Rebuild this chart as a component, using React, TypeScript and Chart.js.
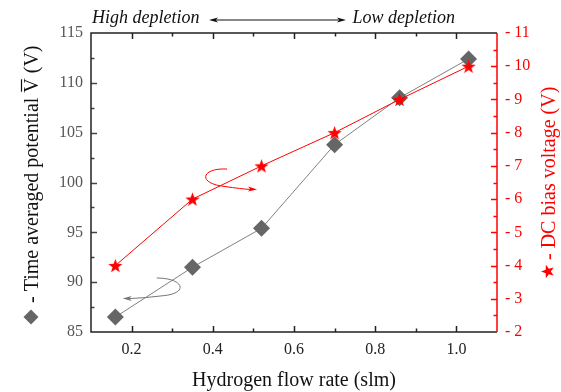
import React, { useEffect, useRef } from "react";
import { Chart, registerables } from "chart.js";

Chart.register(...registerables);

// ---- data ----
const flowRate = [0.16, 0.35, 0.52, 0.7, 0.86, 1.03];
const avgPotential = [86.5, 91.5, 95.4, 103.8, 108.5, 112.4];
const dcBiasFlow = [0.16, 0.35, 0.52, 0.7, 0.86, 1.03];
const dcBias = [4, 6, 7, 8, 9, 10];

const xLabels = ["0.2", "0.4", "0.6", "0.8", "1.0"];
const leftLabels = ["85", "90", "95", "100", "105", "110", "115"];
const rightLabels = ["2", "3", "4", "5", "6", "7", "8", "9", "10", "11"];

const xTitle = "Hydrogen flow rate (slm)";
const leftTitleA = "- Time averaged potential ";
const leftTitleV = "V";
const leftTitleB = " (V)";
const rightTitle = "- DC bias voltage (V)";
const annLeft = "High depletion";
const annRight = "Low depletion";

const SERIF = "'Liberation Serif', 'Times New Roman', serif";
const GREY = "#666666";
const RED = "#ff0000";

function makeStar(R: number, color: string): HTMLCanvasElement {
  const size = Math.ceil(R * 2 + 2);
  const c = document.createElement("canvas");
  c.width = size;
  c.height = size;
  const ctx = c.getContext("2d")!;
  const cx = size / 2;
  const cy = size / 2 + R * 0.1;
  const r = R * 0.4;
  ctx.beginPath();
  for (let i = 0; i < 10; i++) {
    const a = -Math.PI / 2 + (i * Math.PI) / 5;
    const rr = i % 2 === 0 ? R : r;
    const x = cx + rr * Math.cos(a);
    const y = cy + rr * Math.sin(a);
    if (i === 0) ctx.moveTo(x, y);
    else ctx.lineTo(x, y);
  }
  ctx.closePath();
  ctx.fillStyle = color;
  ctx.fill();
  return c;
}

function drawStarShape(ctx: CanvasRenderingContext2D, cx: number, cy: number, R: number) {
  const r = R * 0.4;
  ctx.beginPath();
  for (let i = 0; i < 10; i++) {
    const a = -Math.PI / 2 + (i * Math.PI) / 5;
    const rr = i % 2 === 0 ? R : r;
    const x = cx + rr * Math.cos(a);
    const y = cy + rr * Math.sin(a);
    if (i === 0) ctx.moveTo(x, y);
    else ctx.lineTo(x, y);
  }
  ctx.closePath();
  ctx.fill();
}

function arrowHead(ctx: CanvasRenderingContext2D, x: number, y: number, angle: number, len: number, half: number) {
  ctx.save();
  ctx.translate(x, y);
  ctx.rotate(angle);
  ctx.beginPath();
  ctx.moveTo(0, 0);
  ctx.lineTo(-len, -half);
  ctx.lineTo(-len * 0.75, 0);
  ctx.lineTo(-len, half);
  ctx.closePath();
  ctx.fill();
  ctx.restore();
}

const decorPlugin = {
  id: "decor",
  afterDraw(chart: any) {
    const ctx: CanvasRenderingContext2D = chart.ctx;
    const { left, right, top, bottom } = chart.chartArea;
    const xs = chart.scales.x;
    const yl = chart.scales.y;
    const yr = chart.scales.y1;
    ctx.save();

    // ticks (inward)
    const MAJ = 6;
    const MIN = 3.5;
    ctx.lineWidth = 1.5;
    ctx.strokeStyle = "#222";
    xs.ticks.forEach((t: any) => {
      const px = Math.round(xs.getPixelForValue(t.value)) + 0.5;
      if (px <= left + 1 || px >= right - 1) return;
      const len = t.label ? MAJ : MIN;
      ctx.beginPath();
      ctx.moveTo(px, bottom);
      ctx.lineTo(px, bottom - len);
      ctx.moveTo(px, top);
      ctx.lineTo(px, top + len);
      ctx.stroke();
    });
    ctx.strokeStyle = "#444";
    yl.ticks.forEach((t: any) => {
      const py = Math.round(yl.getPixelForValue(t.value)) + 0.5;
      if (py <= top + 1 || py >= bottom - 1) return;
      const len = t.label ? MAJ : MIN;
      ctx.beginPath();
      ctx.moveTo(left, py);
      ctx.lineTo(left + len, py);
      ctx.stroke();
    });
    ctx.strokeStyle = RED;
    yr.ticks.forEach((t: any) => {
      const py = Math.round(yr.getPixelForValue(t.value)) + 0.5;
      if (py <= top + 1 || py >= bottom - 1) return;
      const len = t.label ? MAJ : MIN;
      ctx.beginPath();
      ctx.moveTo(right, py);
      ctx.lineTo(right - len, py);
      ctx.stroke();
    });

    // frame
    ctx.lineWidth = 1.5;
    ctx.strokeStyle = "#222";
    ctx.beginPath();
    ctx.moveTo(right, top);
    ctx.lineTo(left, top);
    ctx.lineTo(left, bottom);
    ctx.lineTo(right, bottom);
    ctx.stroke();
    ctx.strokeStyle = RED;
    ctx.beginPath();
    ctx.moveTo(right, top);
    ctx.lineTo(right, bottom);
    ctx.stroke();

    // curved arrows (positioned through the scales)
    const P = (x: number, y: number) => [xs.getPixelForValue(x), yl.getPixelForValue(y)];
    // red arrow -> points to right axis
    ctx.lineWidth = 1;
    ctx.strokeStyle = RED;
    ctx.fillStyle = RED;
    {
      const p0 = P(0.435, 101.35);
      const c1 = P(0.372, 101.5);
      const c2 = P(0.36, 99.9);
      const p1 = P(0.43, 99.6);
      const q = P(0.47, 99.35);
      const tip = P(0.509, 99.3);
      ctx.beginPath();
      ctx.moveTo(p0[0], p0[1]);
      ctx.bezierCurveTo(c1[0], c1[1], c2[0], c2[1], p1[0], p1[1]);
      ctx.quadraticCurveTo(q[0], q[1], tip[0] - 6, tip[1]);
      ctx.stroke();
      arrowHead(ctx, tip[0], tip[1], 0.05, 9, 2.5);
    }
    // grey arrow -> points to left axis
    ctx.strokeStyle = "#777";
    ctx.fillStyle = "#777";
    {
      const p0 = P(0.262, 90.42);
      const c1 = P(0.33, 90.4);
      const c2 = P(0.34, 88.9);
      const p1 = P(0.28, 88.65);
      const q = P(0.23, 88.4);
      const tip = P(0.178, 88.35);
      ctx.beginPath();
      ctx.moveTo(p0[0], p0[1]);
      ctx.bezierCurveTo(c1[0], c1[1], c2[0], c2[1], p1[0], p1[1]);
      ctx.quadraticCurveTo(q[0], q[1], tip[0] + 6, tip[1]);
      ctx.stroke();
      arrowHead(ctx, tip[0], tip[1], Math.PI - 0.02, 9, 2.5);
    }

    // top annotation
    ctx.fillStyle = "#111";
    ctx.font = `italic 18px ${SERIF}`;
    ctx.textBaseline = "alphabetic";
    ctx.textAlign = "left";
    ctx.fillText(annLeft, left + 1, 23);
    ctx.textAlign = "right";
    ctx.fillText(annRight, right - 42, 23);
    ctx.strokeStyle = "#111";
    ctx.fillStyle = "#111";
    ctx.lineWidth = 1;
    ctx.beginPath();
    ctx.moveTo(214, 20);
    ctx.lineTo(341, 20);
    ctx.stroke();
    arrowHead(ctx, 209, 20, Math.PI, 9, 2.5);
    arrowHead(ctx, 346, 20, 0, 9, 2.5);

    // x title
    ctx.font = `20px ${SERIF}`;
    ctx.fillStyle = "#111";
    ctx.textAlign = "center";
    ctx.textBaseline = "alphabetic";
    ctx.fillText(xTitle, (left + right) / 2, 386);

    // left title (rotated, reads bottom to top)
    ctx.save();
    ctx.translate(38, 325);
    ctx.rotate(-Math.PI / 2);
    ctx.fillStyle = GREY;
    ctx.beginPath();
    ctx.moveTo(0.5, -7);
    ctx.lineTo(8, -14.5);
    ctx.lineTo(15.5, -7);
    ctx.lineTo(8, 0.5);
    ctx.closePath();
    ctx.fill();
    ctx.fillStyle = "#111";
    ctx.font = `20px ${SERIF}`;
    ctx.textAlign = "left";
    ctx.textBaseline = "alphabetic";
    let x = 22;
    ctx.fillText(leftTitleA, x, 0);
    x += ctx.measureText(leftTitleA).width;
    const vw = ctx.measureText(leftTitleV).width;
    ctx.fillText(leftTitleV, x, 0);
    ctx.lineWidth = 1.2;
    ctx.strokeStyle = "#111";
    ctx.beginPath();
    ctx.moveTo(x + 1, -16.5);
    ctx.lineTo(x + vw - 1, -16.5);
    ctx.stroke();
    x += vw;
    ctx.fillText(leftTitleB, x, 0);
    ctx.restore();

    // right title (rotated, reads bottom to top)
    ctx.save();
    ctx.translate(555, 279);
    ctx.rotate(-Math.PI / 2);
    ctx.fillStyle = RED;
    drawStarShape(ctx, 7.5, -7, 7);
    ctx.font = `20px ${SERIF}`;
    ctx.textAlign = "left";
    ctx.textBaseline = "alphabetic";
    ctx.fillText(rightTitle, 19, 0);
    ctx.restore();

    ctx.restore();
  },
};

export default function App() {
  const ref = useRef<HTMLCanvasElement | null>(null);
  useEffect(() => {
    const canvas = ref.current!;
    const star = makeStar(7.5, RED);
    const tickFont = { family: SERIF, size: 16 };
    const chart = new Chart(canvas, {
      type: "line",
      data: {
        datasets: [
          {
            label: "DC bias voltage",
            data: dcBiasFlow.map((x, i) => ({ x, y: dcBias[i] })),
            yAxisID: "y1",
            borderColor: RED,
            borderWidth: 1,
            pointStyle: star as any,
            pointRadius: 8,
            pointBackgroundColor: RED,
            pointBorderColor: RED,
            tension: 0,
          },
          {
            label: "Time averaged potential",
            data: flowRate.map((x, i) => ({ x, y: avgPotential[i] })),
            yAxisID: "y",
            borderColor: "#808080",
            borderWidth: 1,
            pointStyle: "rectRot",
            pointRadius: 8.5,
            pointBackgroundColor: GREY,
            pointBorderColor: GREY,
            pointBorderWidth: 0,
            tension: 0,
          },
        ],
      },
      options: {
        animation: false,
        responsive: false,
        maintainAspectRatio: false,
        layout: { padding: { top: 33, left: 0, right: 0, bottom: 0 } },
        plugins: { legend: { display: false }, tooltip: { enabled: false } },
        scales: {
          x: {
            type: "linear",
            position: "bottom",
            min: 0.1,
            max: 1.1,
            grid: { display: false, drawTicks: false },
            border: { display: false },
            ticks: {
              stepSize: 0.1,
              autoSkip: false,
              maxRotation: 0,
              padding: 8,
              color: "#222",
              font: tickFont,
              callback: (v: any) => {
                const s = (Math.round(Number(v) * 10) / 10).toFixed(1);
                return xLabels.includes(s) ? s : "";
              },
            },
            afterFit: (s: any) => {
              s.height = 60;
            },
          },
          y: {
            type: "linear",
            position: "left",
            min: 85,
            max: 115,
            grid: { display: false, drawTicks: false },
            border: { display: false },
            ticks: {
              stepSize: 2.5,
              autoSkip: false,
              padding: 8,
              color: "#555",
              font: tickFont,
              callback: (v: any) => {
                const s = String(Number(v));
                return leftLabels.includes(s) ? s : "";
              },
            },
            afterFit: (s: any) => {
              s.width = 91;
            },
          },
          y1: {
            type: "linear",
            position: "right",
            min: 2,
            max: 11,
            grid: { display: false, drawTicks: false },
            border: { display: false },
            ticks: {
              stepSize: 0.5,
              autoSkip: false,
              padding: 8,
              color: RED,
              font: tickFont,
              callback: (v: any) => {
                const s = String(Number(v));
                return rightLabels.includes(s) ? "- " + s : "";
              },
            },
            afterFit: (s: any) => {
              s.width = 64;
            },
          },
        },
      },
      plugins: [decorPlugin],
    } as any);
    return () => chart.destroy();
  }, []);
  return (
    <div style={{ position: "absolute", left: 0, top: 0, width: 561, height: 392, background: "#fff" }}>
      <canvas ref={ref} width={561} height={392} style={{ display: "block" }} />
    </div>
  );
}
